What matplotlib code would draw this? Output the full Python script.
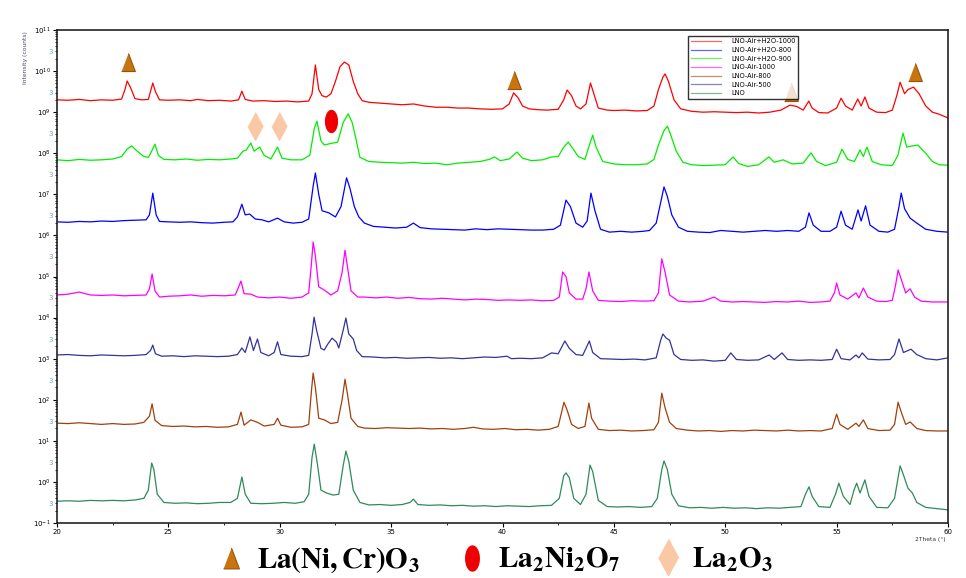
import numpy as np
import matplotlib
matplotlib.use("Agg")
import matplotlib.pyplot as plt
from matplotlib.ticker import FixedLocator, MultipleLocator, LogFormatterSciNotation

# (2theta, log10 intensity)
lno_air_h2o_1000 = [
    (20, 9.30), (20.5, 9.29), (21, 9.31), (21.5, 9.28), (22, 9.30), (22.5, 9.29), (22.9, 9.32),
    (23.05, 9.55), (23.15, 9.76), (23.3, 9.60), (23.5, 9.33), (23.8, 9.30), (24.1, 9.31),
    (24.22, 9.55), (24.3, 9.71), (24.42, 9.50), (24.6, 9.30), (25, 9.29), (25.5, 9.30),
    (26, 9.28), (26.3, 9.31), (26.8, 9.28), (27.3, 9.29), (27.8, 9.27), (28.15, 9.30),
    (28.3, 9.51), (28.45, 9.31), (28.8, 9.27), (29.3, 9.28), (29.8, 9.26), (30.3, 9.27),
    (30.8, 9.25), (31.3, 9.27), (31.45, 9.45), (31.6, 10.15), (31.75, 9.55), (31.9, 9.40),
    (32.1, 9.37), (32.3, 9.45), (32.5, 9.75), (32.7, 10.10), (32.9, 10.22), (33.1, 10.15),
    (33.3, 9.75), (33.5, 9.45), (33.7, 9.28), (34, 9.24), (34.5, 9.22), (35, 9.20),
    (35.5, 9.18), (36, 9.20), (36.5, 9.15), (37, 9.12), (37.5, 9.12), (38, 9.10), (38.5, 9.10),
    (39, 9.08), (39.5, 9.07), (40, 9.08), (40.3, 9.20), (40.5, 9.47), (40.7, 9.35),
    (40.9, 9.15), (41.2, 9.08), (41.6, 9.06), (42, 9.05), (42.5, 9.07), (42.75, 9.30),
    (42.9, 9.54), (43.1, 9.40), (43.3, 9.15), (43.5, 9.08), (43.75, 9.20), (43.95, 9.71),
    (44.1, 9.45), (44.3, 9.10), (44.7, 9.05), (45, 9.04), (45.5, 9.05), (46, 9.03),
    (46.5, 9.04), (46.8, 9.15), (47.0, 9.55), (47.2, 9.85), (47.3, 9.93), (47.45, 9.75),
    (47.7, 9.30), (48, 9.08), (48.5, 9.02), (49, 9.00), (49.5, 9.01), (50, 9.00), (50.5, 8.99),
    (51, 9.00), (51.5, 8.98), (52, 9.00), (52.5, 9.05), (52.9, 9.17), (53.2, 9.14),
    (53.5, 9.05), (53.75, 9.27), (53.9, 9.10), (54.2, 8.99), (54.6, 8.98), (55.0, 9.10),
    (55.2, 9.34), (55.4, 9.15), (55.7, 9.05), (55.95, 9.32), (56.1, 9.15), (56.27, 9.37),
    (56.45, 9.10), (56.8, 9.00), (57.2, 8.99), (57.5, 9.05), (57.7, 9.40), (57.85, 9.73),
    (58.05, 9.45), (58.2, 9.55), (58.45, 9.61), (58.7, 9.45), (59.0, 9.15), (59.3, 9.00),
    (59.6, 8.95), (60, 8.86),
]
lno_air_h2o_800 = [
    (20, 6.33), (20.5, 6.32), (21, 6.34), (21.5, 6.33), (22, 6.35), (22.5, 6.34), (23, 6.36),
    (23.5, 6.37), (24.0, 6.38), (24.15, 6.50), (24.3, 7.03), (24.45, 6.50), (24.6, 6.34),
    (25, 6.33), (25.5, 6.32), (26, 6.33), (26.5, 6.31), (27, 6.30), (27.5, 6.32), (27.9, 6.33),
    (28.1, 6.45), (28.3, 6.76), (28.45, 6.50), (28.65, 6.52), (28.9, 6.40), (29.2, 6.38),
    (29.5, 6.33), (29.9, 6.42), (30.2, 6.33), (30.6, 6.30), (31.0, 6.32), (31.3, 6.40),
    (31.5, 7.20), (31.6, 7.52), (31.75, 7.00), (31.9, 6.60), (32.2, 6.55), (32.5, 6.45),
    (32.75, 6.70), (33.0, 7.40), (33.15, 7.15), (33.35, 6.70), (33.55, 6.45), (33.8, 6.30),
    (34.2, 6.22), (34.7, 6.20), (35.2, 6.18), (35.7, 6.20), (36.0, 6.30), (36.3, 6.19),
    (36.8, 6.16), (37.3, 6.15), (37.8, 6.14), (38.3, 6.13), (38.8, 6.16), (39.3, 6.14),
    (39.8, 6.16), (40.3, 6.15), (40.8, 6.14), (41.3, 6.13), (41.8, 6.13), (42.3, 6.15),
    (42.6, 6.25), (42.85, 6.86), (43.05, 6.70), (43.3, 6.30), (43.6, 6.20), (43.8, 6.35),
    (43.97, 7.03), (44.15, 6.60), (44.4, 6.15), (44.8, 6.08), (45.3, 6.10), (45.8, 6.08),
    (46.3, 6.10), (46.6, 6.12), (46.9, 6.30), (47.1, 6.80), (47.25, 7.18), (47.4, 6.95),
    (47.6, 6.50), (47.9, 6.20), (48.3, 6.10), (48.8, 6.08), (49.3, 6.07), (49.8, 6.12),
    (50.3, 6.10), (50.8, 6.08), (51.3, 6.10), (51.8, 6.12), (52.3, 6.10), (52.8, 6.12),
    (53.3, 6.10), (53.6, 6.20), (53.76, 6.55), (53.95, 6.25), (54.3, 6.10), (54.7, 6.10),
    (55.0, 6.20), (55.2, 6.59), (55.4, 6.25), (55.7, 6.15), (55.96, 6.62), (56.1, 6.35),
    (56.3, 6.72), (56.5, 6.25), (56.9, 6.10), (57.3, 6.08), (57.6, 6.15), (57.8, 6.70),
    (57.9, 7.03), (58.05, 6.65), (58.3, 6.42), (58.6, 6.30), (59.0, 6.15), (59.5, 6.10),
    (60, 6.08),
]
lno_air_h2o_900 = [
    (20, 7.84), (20.5, 7.82), (21, 7.85), (21.5, 7.83), (22, 7.84), (22.5, 7.86), (22.9, 7.92),
    (23.15, 8.10), (23.35, 8.18), (23.6, 8.05), (23.9, 7.92), (24.1, 7.90), (24.25, 8.05),
    (24.4, 8.22), (24.55, 7.95), (24.8, 7.85), (25.3, 7.84), (25.8, 7.86), (26.3, 7.83),
    (26.8, 7.85), (27.3, 7.84), (27.8, 7.86), (28.1, 7.88), (28.35, 8.05), (28.5, 8.08),
    (28.7, 8.25), (28.85, 8.05), (29.1, 8.15), (29.3, 7.95), (29.6, 7.86), (29.9, 8.15),
    (30.1, 7.88), (30.5, 7.84), (31.0, 7.84), (31.35, 7.95), (31.55, 8.60), (31.67, 8.78),
    (31.85, 8.30), (32.0, 8.20), (32.3, 8.24), (32.6, 8.27), (32.85, 8.75), (33.07, 8.96),
    (33.25, 8.75), (33.4, 8.40), (33.6, 7.90), (34.0, 7.80), (34.5, 7.78), (35, 7.77),
    (35.5, 7.76), (36, 7.78), (36.5, 7.75), (37, 7.76), (37.5, 7.72), (38, 7.76), (38.5, 7.78),
    (39, 7.80), (39.4, 7.85), (39.65, 7.91), (39.9, 7.82), (40.3, 7.86), (40.65, 8.03),
    (40.9, 7.88), (41.3, 7.82), (41.8, 7.84), (42.2, 7.91), (42.5, 7.92), (42.75, 8.15),
    (42.95, 8.27), (43.15, 8.12), (43.4, 7.92), (43.7, 7.85), (43.9, 8.20), (44.05, 8.44),
    (44.2, 8.15), (44.5, 7.80), (45, 7.74), (45.5, 7.72), (46, 7.72), (46.5, 7.74),
    (46.8, 7.85), (47.0, 8.20), (47.25, 8.55), (47.4, 8.66), (47.55, 8.45), (47.8, 8.05),
    (48.1, 7.78), (48.5, 7.72), (49, 7.70), (49.5, 7.71), (50.0, 7.72), (50.35, 7.91),
    (50.6, 7.75), (51, 7.68), (51.5, 7.72), (51.96, 7.91), (52.2, 7.78), (52.6, 7.84),
    (53, 7.74), (53.5, 7.76), (53.85, 8.01), (54.1, 7.80), (54.5, 7.70), (55.0, 7.78),
    (55.24, 8.10), (55.5, 7.85), (55.8, 7.80), (56.05, 8.08), (56.2, 7.92), (56.36, 8.15),
    (56.6, 7.80), (57.0, 7.72), (57.5, 7.70), (57.75, 7.95), (57.98, 8.49), (58.15, 8.15),
    (58.4, 8.18), (58.65, 8.20), (59.0, 8.00), (59.3, 7.80), (59.6, 7.72), (60, 7.71),
]
lno_air_1000 = [
    (20, 4.55), (20.5, 4.57), (21.0, 4.62), (21.5, 4.55), (22, 4.54), (22.5, 4.55), (23, 4.53),
    (23.5, 4.54), (24.0, 4.55), (24.15, 4.70), (24.27, 5.06), (24.4, 4.65), (24.6, 4.50),
    (25, 4.52), (25.5, 4.53), (26, 4.55), (26.5, 4.52), (27, 4.54), (27.5, 4.53), (28.0, 4.55),
    (28.12, 4.70), (28.26, 4.89), (28.4, 4.58), (28.7, 4.57), (29, 4.50), (29.5, 4.48),
    (30, 4.50), (30.5, 4.47), (31.0, 4.50), (31.3, 4.60), (31.42, 5.30), (31.5, 5.84),
    (31.6, 5.50), (31.75, 4.75), (32.0, 4.67), (32.3, 4.55), (32.6, 4.65), (32.8, 5.10),
    (32.93, 5.64), (33.05, 5.20), (33.2, 4.65), (33.5, 4.50), (33.8, 4.50), (34.3, 4.48),
    (34.8, 4.50), (35.3, 4.47), (35.8, 4.49), (36.3, 4.46), (36.8, 4.45), (37.3, 4.47),
    (37.8, 4.45), (38.3, 4.43), (38.8, 4.45), (39.3, 4.44), (39.8, 4.42), (40.3, 4.43),
    (40.8, 4.42), (41.3, 4.43), (41.8, 4.41), (42.3, 4.42), (42.55, 4.50), (42.7, 5.11),
    (42.85, 5.00), (43.0, 4.60), (43.3, 4.45), (43.6, 4.45), (43.75, 4.70), (43.88, 5.11),
    (44.05, 4.65), (44.3, 4.42), (44.8, 4.40), (45.3, 4.39), (45.8, 4.41), (46.3, 4.40),
    (46.8, 4.41), (47.0, 4.60), (47.15, 5.43), (47.3, 5.10), (47.5, 4.55), (47.9, 4.40),
    (48.4, 4.38), (49.0, 4.40), (49.5, 4.50), (49.8, 4.40), (50.3, 4.38), (50.8, 4.39),
    (51.3, 4.38), (51.8, 4.37), (52.3, 4.39), (52.8, 4.38), (53.3, 4.40), (53.8, 4.37),
    (54.3, 4.38), (54.7, 4.40), (54.9, 4.60), (55.0, 4.84), (55.15, 4.55), (55.5, 4.45),
    (55.87, 4.60), (56.0, 4.48), (56.2, 4.72), (56.4, 4.50), (56.8, 4.40), (57.2, 4.39),
    (57.5, 4.42), (57.65, 4.80), (57.76, 5.16), (57.95, 4.85), (58.1, 4.60), (58.3, 4.70),
    (58.5, 4.50), (58.8, 4.40), (59.3, 4.38), (60, 4.38),
]
lno_air_800 = [
    (20, 1.43), (20.5, 1.42), (21, 1.44), (21.5, 1.42), (22, 1.40), (22.5, 1.42), (23, 1.40),
    (23.5, 1.41), (23.9, 1.45), (24.15, 1.60), (24.27, 1.90), (24.4, 1.50), (24.7, 1.37),
    (25.2, 1.35), (25.7, 1.36), (26.2, 1.34), (26.7, 1.35), (27.2, 1.33), (27.7, 1.34),
    (28.1, 1.40), (28.26, 1.70), (28.4, 1.38), (28.7, 1.51), (29.0, 1.45), (29.3, 1.36),
    (29.75, 1.40), (29.9, 1.55), (30.05, 1.38), (30.5, 1.33), (31.0, 1.34), (31.3, 1.40),
    (31.42, 2.20), (31.5, 2.65), (31.6, 2.30), (31.75, 1.55), (32.0, 1.51), (32.3, 1.42),
    (32.6, 1.45), (32.8, 2.00), (32.93, 2.50), (33.05, 2.10), (33.2, 1.55), (33.5, 1.35),
    (33.8, 1.31), (34.3, 1.30), (34.8, 1.32), (35.3, 1.31), (35.8, 1.30), (36.3, 1.31),
    (36.8, 1.29), (37.3, 1.30), (37.8, 1.28), (38.3, 1.30), (38.7, 1.33), (39.1, 1.29),
    (39.6, 1.28), (40.1, 1.30), (40.6, 1.27), (41.1, 1.28), (41.6, 1.26), (42.1, 1.28),
    (42.5, 1.35), (42.76, 1.94), (42.9, 1.75), (43.1, 1.40), (43.4, 1.30), (43.7, 1.35),
    (43.88, 1.92), (44.0, 1.55), (44.3, 1.28), (44.8, 1.25), (45.3, 1.26), (45.8, 1.24),
    (46.3, 1.25), (46.8, 1.27), (47.0, 1.45), (47.15, 2.16), (47.3, 1.80), (47.5, 1.45),
    (47.8, 1.30), (48.3, 1.26), (48.8, 1.24), (49.3, 1.25), (49.8, 1.23), (50.3, 1.25),
    (50.8, 1.24), (51.3, 1.26), (51.8, 1.25), (52.3, 1.24), (52.8, 1.26), (53.3, 1.24),
    (53.8, 1.25), (54.3, 1.24), (54.8, 1.30), (55.0, 1.65), (55.15, 1.40), (55.5, 1.28),
    (55.87, 1.43), (56.0, 1.35), (56.2, 1.51), (56.4, 1.30), (56.9, 1.25), (57.4, 1.26),
    (57.6, 1.40), (57.76, 1.94), (57.9, 1.70), (58.1, 1.40), (58.3, 1.46), (58.6, 1.30),
    (59.0, 1.25), (59.5, 1.24), (60, 1.24),
]
lno_air_500 = [
    (20, 3.09), (20.5, 3.10), (21, 3.08), (21.5, 3.07), (22, 3.09), (22.5, 3.08), (23, 3.07),
    (23.5, 3.08), (24.0, 3.10), (24.2, 3.20), (24.3, 3.33), (24.42, 3.12), (24.7, 3.06),
    (25.2, 3.07), (25.7, 3.05), (26.2, 3.07), (26.7, 3.06), (27.2, 3.05), (27.7, 3.06),
    (28.1, 3.10), (28.3, 3.26), (28.45, 3.15), (28.66, 3.53), (28.82, 3.20), (29.0, 3.48),
    (29.15, 3.15), (29.5, 3.07), (29.75, 3.15), (29.9, 3.41), (30.05, 3.10), (30.5, 3.06),
    (31.0, 3.05), (31.3, 3.08), (31.45, 3.60), (31.54, 4.01), (31.65, 3.70), (31.85, 3.25),
    (32.0, 3.21), (32.15, 3.35), (32.35, 3.50), (32.55, 3.40), (32.65, 3.26), (32.85, 3.70),
    (32.97, 3.99), (33.1, 3.60), (33.3, 3.48), (33.45, 3.20), (33.7, 3.05), (34.2, 3.04),
    (34.7, 3.02), (35.2, 3.03), (35.7, 3.01), (36.2, 3.02), (36.7, 3.03), (37.2, 3.01),
    (37.7, 3.02), (38.2, 3.00), (38.7, 3.02), (39.2, 3.04), (39.7, 3.03), (40.2, 3.06),
    (40.4, 3.00), (40.8, 3.01), (41.3, 3.00), (41.8, 3.02), (42.2, 3.14), (42.5, 3.12),
    (42.8, 3.43), (43.0, 3.25), (43.3, 3.10), (43.6, 3.08), (43.9, 3.43), (44.05, 3.15),
    (44.4, 3.00), (44.9, 2.99), (45.4, 2.98), (45.9, 2.99), (46.4, 2.97), (46.9, 3.02),
    (47.1, 3.45), (47.2, 3.60), (47.35, 3.50), (47.5, 3.45), (47.7, 3.10), (48, 2.98),
    (48.5, 2.96), (49, 2.97), (49.5, 2.94), (50.0, 2.96), (50.25, 3.14), (50.5, 2.98),
    (51, 2.96), (51.5, 2.97), (51.97, 3.09), (52.2, 2.98), (52.55, 3.14), (52.8, 2.98),
    (53.3, 2.96), (53.8, 2.97), (54.3, 2.96), (54.8, 2.98), (55.0, 3.23), (55.2, 3.00),
    (55.6, 2.97), (55.87, 3.09), (56.0, 3.02), (56.15, 3.14), (56.4, 2.99), (56.9, 2.97),
    (57.4, 2.98), (57.6, 3.10), (57.8, 3.48), (58.0, 3.15), (58.34, 3.23), (58.6, 3.10),
    (59.0, 3.00), (59.5, 2.97), (60, 3.02),
]
lno = [
    (20, -0.47), (20.5, -0.46), (21, -0.47), (21.5, -0.45), (22, -0.46), (22.5, -0.45),
    (23, -0.46), (23.5, -0.44), (23.9, -0.40), (24.1, -0.20), (24.25, 0.46), (24.35, 0.30),
    (24.5, -0.30), (24.8, -0.50), (25.3, -0.52), (25.8, -0.51), (26.3, -0.53), (26.8, -0.52),
    (27.3, -0.50), (27.8, -0.50), (28.1, -0.40), (28.3, 0.12), (28.45, -0.30), (28.7, -0.52),
    (29.2, -0.53), (29.7, -0.52), (30.2, -0.50), (30.7, -0.52), (31.1, -0.48), (31.3, -0.30),
    (31.45, 0.60), (31.55, 0.92), (31.7, 0.40), (31.85, -0.20), (32.1, -0.27), (32.4, -0.32),
    (32.65, -0.30), (32.85, 0.40), (32.97, 0.75), (33.1, 0.50), (33.3, -0.20), (33.6, -0.50),
    (34, -0.56), (34.5, -0.55), (35, -0.57), (35.5, -0.55), (35.85, -0.50), (36.0, -0.42),
    (36.2, -0.55), (36.7, -0.57), (37.2, -0.56), (37.7, -0.58), (38.2, -0.57), (38.7, -0.59),
    (39.2, -0.58), (39.7, -0.60), (40.2, -0.58), (40.7, -0.59), (41.2, -0.60), (41.7, -0.58),
    (42.2, -0.57), (42.55, -0.40), (42.75, 0.15), (42.85, 0.22), (43.0, 0.10), (43.2, -0.40),
    (43.5, -0.55), (43.75, -0.30), (43.93, 0.41), (44.05, 0.25), (44.3, -0.45), (44.7, -0.60),
    (45.2, -0.61), (45.7, -0.60), (46.2, -0.62), (46.7, -0.60), (46.95, -0.40), (47.15, 0.30),
    (47.25, 0.51), (47.4, 0.30), (47.6, -0.30), (47.9, -0.58), (48.4, -0.63), (48.9, -0.62),
    (49.4, -0.64), (49.9, -0.62), (50.4, -0.64), (50.9, -0.63), (51.4, -0.65), (51.9, -0.63),
    (52.4, -0.64), (52.9, -0.62), (53.4, -0.60), (53.6, -0.30), (53.76, -0.12), (53.9, -0.35),
    (54.2, -0.60), (54.7, -0.62), (54.95, -0.30), (55.1, -0.03), (55.3, -0.35), (55.6, -0.55),
    (55.78, -0.20), (55.9, -0.03), (56.05, -0.27), (56.27, 0.05), (56.45, -0.35), (56.8, -0.62),
    (57.3, -0.63), (57.6, -0.40), (57.85, 0.39), (58.0, 0.17), (58.2, -0.15), (58.4, -0.27),
    (58.6, -0.50), (59.0, -0.62), (59.5, -0.65), (60, -0.68),
]

series_labels = ["LNO-Air+H2O-1000", "LNO-Air+H2O-800", "LNO-Air+H2O-900",
                 "LNO-Air-1000", "LNO-Air-800", "LNO-Air-500", "LNO"]
series_data = [lno_air_h2o_1000, lno_air_h2o_800, lno_air_h2o_900,
               lno_air_1000, lno_air_800, lno_air_500, lno]
series_colors = ["#ff0000", "#0000ff", "#00ee00", "#ff00ff", "#a0400c", "#333399", "#2e8b57"]

# phase markers: (2theta, log10 intensity)
lanicro3_marks = [(23.2, 10.22), (40.5, 9.78), (52.95, 9.49), (58.5, 9.98)]
la2ni2o7_marks = [(32.3, 8.78)]
la2o3_marks = [(28.9, 8.66), (29.95, 8.66)]
phase_names = [r"$\mathbf{La(Ni,Cr)O_3}$", r"$\mathbf{La_2Ni_2O_7}$", r"$\mathbf{La_2O_3}$"]

TRI = [(-0.38, -0.5), (0.38, -0.5), (0.0, 0.5)]
DIAM = [(0, 1), (0.54, 0), (0, -1), (-0.54, 0)]
_t = np.linspace(0, 2 * np.pi, 40)
ELL = list(zip(0.27 * np.cos(_t), 0.5 * np.sin(_t)))
TRI_C, TRI_E = "#c8740f", "#9a520a"
ELL_C = "#ee0000"
DIAM_C = "#fbc8a6"

plt.rcParams["font.family"] = ["DejaVu Sans"]
plt.rcParams["mathtext.fontset"] = "stix"

fig = plt.figure(figsize=(9.66, 5.78), dpi=100)
W, H = 966, 578
ax = fig.add_axes([57 / W, 1 - 523 / H, (948 - 57) / W, (523 - 30) / H])

for data, lab, col in zip(series_data, series_labels, series_colors):
    tt = [p[0] for p in data]
    yy = [10 ** p[1] for p in data]
    ax.plot(tt, yy, color=col, lw=0.9, label=lab)

def put_marks(marks, shape, size, face, edge):
    ax.plot([m[0] for m in marks], [10 ** m[1] for m in marks], ls="none", marker=shape,
            ms=size, mfc=face, mec=edge, mew=0.8, zorder=5)

put_marks(lanicro3_marks, TRI, 13, TRI_C, TRI_E)
put_marks(la2ni2o7_marks, ELL, 16, ELL_C, ELL_C)
put_marks(la2o3_marks, DIAM, 20, DIAM_C, DIAM_C)

ax.set_yscale("log")
ax.set_xlim(20, 60)
ax.set_ylim(1e-1, 1e11)
ax.xaxis.set_major_locator(MultipleLocator(5))
ax.xaxis.set_minor_locator(MultipleLocator(2.5))
decades = np.arange(-1, 12)
ax.yaxis.set_major_locator(FixedLocator(10.0 ** decades))
ax.yaxis.set_major_formatter(LogFormatterSciNotation())
minor_pos, minor_lab = [], []
for d in decades[:-1]:
    for k in range(2, 10):
        minor_pos.append(k * 10.0 ** d)
        minor_lab.append("3" if k == 3 else "")
ax.yaxis.set_minor_locator(FixedLocator(minor_pos))
ax.set_yticklabels(minor_lab, minor=True)
ax.tick_params(axis="both", which="major", labelsize=5, length=3, width=0.8, pad=1.5)
ax.tick_params(axis="both", which="minor", labelsize=5, length=1.5, width=0.6, pad=1.5)
for t in ax.get_yticklabels(minor=True):
    t.set_color("#7a9cc6")
for s in ax.spines.values():
    s.set_linewidth(1.2)
    s.set_color("#222222")

leg = ax.legend(loc="upper left", bbox_to_anchor=(0.705, 0.995), fontsize=4.8,
                frameon=True, fancybox=False, edgecolor="black", handlelength=4.5,
                labelspacing=0.4, borderpad=0.4, handletextpad=1.5)
leg.get_frame().set_linewidth(1.0)
for ln in leg.get_lines():
    ln.set_alpha(0.6)

fig.text(25 / W, 1 - 58 / H, "Intensity (counts)", rotation=90, fontsize=4.3,
         color="#4a4a6a", ha="center", va="center")
fig.text(946 / W, 1 - 540 / H, "2Theta (\u00b0)", fontsize=4.3, color="#333333",
         ha="right", va="center")

# phase key below the plot, in pixel coordinates of the figure
key = fig.add_axes([0, 0, 1, 1], facecolor="none")
key.set_xlim(0, W)
key.set_ylim(H, 0)
key.axis("off")
key.plot([231], [558], ls="none", marker=TRI, ms=15, mfc=TRI_C, mec=TRI_E, mew=0.8)
key.plot([472], [558], ls="none", marker=ELL, ms=18, mfc=ELL_C, mec=ELL_C)
key.plot([668], [557], ls="none", marker=DIAM, ms=26, mfc=DIAM_C, mec=DIAM_C)
for xp, txt in zip([257, 498, 692], phase_names):
    key.text(xp, 568, txt, fontsize=21, ha="left", va="baseline", color="black")

fig.savefig("out.png", dpi=100)
